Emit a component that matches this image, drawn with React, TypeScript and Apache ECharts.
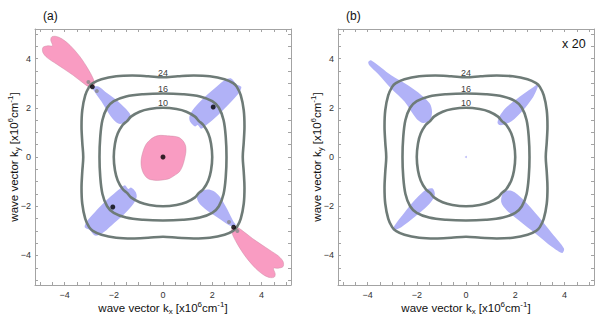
import React, { useEffect, useRef } from "react";
import * as echarts from "echarts";

// ---------- data ----------
const TICKS = [-5, -4.5, -4, -3.5, -3, -2.5, -2, -1.5, -1, -0.5, 0, 0.5, 1, 1.5, 2, 2.5, 3, 3.5, 4, 4.5, 5];
const TICK_LABELS = [-4, -2, 0, 2, 4];

// contour lines, first quadrant (from top axis crossing to right axis crossing)
const C10_Q1 = [[0, 2.0], [0.55, 1.95], [0.95, 1.84], [1.3, 1.64], [1.46, 1.46], [1.64, 1.3], [1.84, 0.95], [1.95, 0.55], [2.0, 0]];
const C16_Q1 = [[0, 2.58], [0.8, 2.55], [1.5, 2.46], [2.0, 2.27], [2.27, 2.0], [2.46, 1.5], [2.55, 0.8], [2.58, 0]];
const C24_Q1 = [[0, 3.24], [0.6, 3.28], [1.25, 3.31], [1.9, 3.28], [2.5, 3.16], [2.85, 3.0], [3.0, 2.85], [3.16, 2.5], [3.28, 1.9], [3.31, 1.25], [3.28, 0.6], [3.24, 0]];
const CONTOUR_LABELS = ["24", "16", "10"];
const CONTOUR_LABEL_Y = [3.4, 2.75, 2.2];

// panel (a) lobes
const A_PINK_UL = [[-2.85, 2.85], [-2.78, 3.02], [-3.0, 3.5], [-3.37, 4.07], [-3.78, 4.54], [-4.12, 4.81], [-4.35, 4.9], [-4.52, 4.88], [-4.56, 4.75], [-4.49, 4.52], [-4.68, 4.52], [-4.88, 4.45], [-4.88, 4.25], [-4.7, 4.03], [-4.33, 3.78], [-3.65, 3.32], [-3.17, 2.95], [-2.95, 2.82]];
const A_PINK_LR = [[2.85, -2.85], [2.78, -3.02], [3.0, -3.5], [3.37, -4.07], [3.78, -4.54], [4.12, -4.81], [4.35, -4.9], [4.52, -4.88], [4.56, -4.75], [4.49, -4.52], [4.68, -4.52], [4.88, -4.45], [4.88, -4.25], [4.7, -4.03], [4.33, -3.78], [3.65, -3.32], [3.17, -2.95], [2.95, -2.82]];
const A_PINK_CENTER = [[-0.09, 0.88], [0.18, 0.86], [0.45, 0.84], [0.66, 0.79], [0.82, 0.65], [0.92, 0.45], [0.93, 0.2], [0.86, -0.15], [0.78, -0.4], [0.66, -0.61], [0.45, -0.76], [0.25, -0.88], [0.0, -0.93], [-0.23, -0.95], [-0.5, -0.92], [-0.66, -0.84], [-0.8, -0.65], [-0.88, -0.4], [-0.89, -0.13], [-0.82, 0.2], [-0.7, 0.5], [-0.5, 0.72], [-0.3, 0.84]];
const A_BLUE_UL = [[-2.89, 2.84], [-2.62, 2.86], [-2.35, 2.65], [-1.87, 2.3], [-1.5, 1.95], [-1.32, 1.7], [-1.36, 1.48], [-1.55, 1.38], [-1.82, 1.36], [-2.14, 1.68], [-2.5, 2.25], [-2.78, 2.65]];
const A_BLUE_LR = [[2.89, -2.82], [2.65, -2.75], [2.2, -2.45], [1.7, -2.1], [1.45, -1.85], [1.38, -1.6], [1.5, -1.42], [1.8, -1.32], [2.05, -1.38], [2.3, -1.6], [2.6, -2.1], [2.85, -2.6], [2.95, -2.75]];
const A_BLUE_UR = [[1.11, 1.42], [1.3, 1.24], [1.41, 1.3], [1.55, 1.15], [1.75, 1.29], [2.23, 1.7], [2.77, 2.24], [3.11, 2.64], [3.18, 2.85], [2.98, 2.96], [2.77, 3.19], [2.5, 3.12], [2.09, 2.78], [1.55, 2.3], [1.2, 1.9], [1.07, 1.63]];
const A_BLUE_LL = [[-1.11, -1.42], [-1.3, -1.24], [-1.41, -1.3], [-1.55, -1.15], [-1.75, -1.29], [-2.23, -1.7], [-2.77, -2.24], [-3.11, -2.64], [-3.18, -2.85], [-2.98, -2.96], [-2.77, -3.19], [-2.5, -3.12], [-2.09, -2.78], [-1.55, -2.3], [-1.2, -1.9], [-1.07, -1.63]];
const A_BLACK_DOTS = [[0, 0], [2.04, 2.03], [-2.04, -2.03], [-2.87, 2.85], [2.87, -2.85]];
const A_GRAY_DOTS = [[-3.03, 3.05], [-2.69, 2.68], [2.68, -2.64], [3.02, -3.01]];

// panel (b) lobes
const B_BLUE_UL = [[-3.97, 3.86], [-3.86, 3.93], [-3.04, 3.32], [-2.36, 2.91], [-1.81, 2.51], [-1.47, 2.17], [-1.38, 1.83], [-1.47, 1.49], [-1.75, 1.38], [-2.02, 1.56], [-2.49, 2.24], [-3.04, 2.78], [-3.59, 3.39], [-3.93, 3.73]];
const B_BLUE_UR = [[1.28, 1.4], [1.36, 1.65], [1.6, 1.98], [1.91, 2.24], [2.45, 2.64], [2.8, 2.88], [2.95, 2.97], [2.9, 2.8], [2.73, 2.44], [2.32, 1.9], [1.85, 1.45], [1.55, 1.32], [1.35, 1.3]];
const B_BLUE_LL = [[-1.34, -1.29], [-1.27, -1.56], [-1.54, -1.96], [-2.09, -2.44], [-2.63, -2.85], [-2.97, -2.98], [-2.9, -2.78], [-2.49, -2.24], [-2.09, -1.76], [-1.75, -1.42], [-1.54, -1.29]];
const B_BLUE_LR = [[1.53, -1.42], [1.87, -1.38], [2.28, -1.69], [2.96, -2.44], [3.5, -3.11], [3.98, -3.72], [3.91, -3.9], [3.5, -3.66], [2.82, -3.11], [2.14, -2.57], [1.66, -2.17], [1.43, -1.83]];
const B_CENTER_DOT = [[0, 0]];

// ---------- styling ----------
const PINK = "#f99cc2";
const PINK_EDGE = "rgba(205,140,165,0.8)";
const BLUE = "#b1b2f7";
const CONTOUR = "#6e7b77";
const FRAME = "#a3a3a3";
const FONT = "'Liberation Sans', Arial, Helvetica, sans-serif";

function fullContour(q: number[][]) {
  const q4 = q.slice(0, -1).reverse().map(([x, y]) => [x, -y]);
  const q3 = q.slice(1).map(([x, y]) => [-x, -y]);
  const q2 = q.slice(1, -1).reverse().map(([x, y]) => [-x, y]);
  return [...q, ...q4, ...q3, ...q2];
}

const CONTOURS = [fullContour(C10_Q1), fullContour(C16_Q1), fullContour(C24_Q1)];

function polySeries(pts: number[][], g: number, fill: string, stroke: string, lw: number, smooth: number, z: number) {
  return {
    type: "custom",
    xAxisIndex: g * 2,
    yAxisIndex: g * 2,
    data: pts,
    encode: { x: 0, y: 1 },
    z,
    silent: true,
    renderItem: (params: any, api: any) => {
      if (params.dataIndex !== 0) return null;
      const points = pts.map((p) => api.coord(p));
      return {
        type: "polygon",
        shape: { points, smooth },
        style: { fill, stroke, lineWidth: lw },
      };
    },
  };
}

function axisName(sub: string) {
  return `{t|wave vector k}{sub|${sub}}{t| [x10}{sup|6}{t|cm}{sup|-1}{t|]}`;
}

const nameRich = {
  t: { fontSize: 11.5, fontFamily: FONT, color: "#111", lineHeight: 15, verticalAlign: "middle" },
  sub: { fontSize: 8, fontFamily: FONT, color: "#111", lineHeight: 15, verticalAlign: "bottom" },
  sup: { fontSize: 8, fontFamily: FONT, color: "#111", lineHeight: 15, verticalAlign: "top" },
};

const tickFormatter = (v: number) => (v < 0 ? "\u2212" + Math.abs(v) : String(v));

function makeXAxes(g: number) {
  const common = {
    type: "value",
    gridIndex: g,
    min: -5.2,
    max: 5.2,
    splitLine: { show: false },
    axisLine: { show: true, onZero: false, lineStyle: { color: FRAME, width: 1 } },
    axisTick: { show: true, inside: true, length: 3, customValues: TICKS, lineStyle: { color: FRAME } },
  };
  return [
    {
      ...common,
      position: "bottom",
      axisLabel: { customValues: TICK_LABELS, formatter: tickFormatter, color: "#333", fontSize: 9, fontFamily: FONT, margin: 5 },
      name: axisName("x"),
      nameLocation: "middle",
      nameGap: 15,
      nameMoveOverlap: false,
      nameTextStyle: { rich: nameRich, verticalAlign: "top" },
    },
    { ...common, position: "top", axisLabel: { show: false } },
  ];
}

function makeYAxes(g: number) {
  const common = {
    type: "value",
    gridIndex: g,
    min: -5.2,
    max: 5.2,
    splitLine: { show: false },
    axisLine: { show: true, onZero: false, lineStyle: { color: FRAME, width: 1 } },
    axisTick: { show: true, inside: true, length: 3, customValues: TICKS, lineStyle: { color: FRAME } },
  };
  return [
    {
      ...common,
      position: "left",
      axisLabel: { customValues: TICK_LABELS, formatter: tickFormatter, color: "#333", fontSize: 9, fontFamily: FONT, margin: 4 },
      name: axisName("y"),
      nameLocation: "middle",
      nameGap: 14,
      nameMoveOverlap: false,
      nameTextStyle: { rich: nameRich, verticalAlign: "bottom" },
    },
    { ...common, position: "right", axisLabel: { show: false } },
  ];
}

function contourSeries(g: number) {
  const s: any[] = CONTOURS.map((c) => polySeries(c, g, "none", CONTOUR, 2.6, 0.35, 5));
  s.push({
    type: "scatter",
    xAxisIndex: g * 2,
    yAxisIndex: g * 2,
    symbolSize: 0,
    z: 6,
    silent: true,
    data: CONTOUR_LABELS.map((t, i) => ({ value: [0, CONTOUR_LABEL_Y[i]], name: t })),
    label: {
      show: true,
      position: "inside",
      formatter: (p: any) => p.name,
      fontSize: 9,
      fontFamily: FONT,
      color: "#000",
      textBorderWidth: 0,
    },
  });
  return s;
}

export default function App() {
  const ref = useRef<HTMLDivElement>(null);
  useEffect(() => {
    if (!ref.current) return;
    const chart = echarts.init(ref.current, null, { renderer: "svg" });
    const option: any = {
      animation: false,
      backgroundColor: "#ffffff",
      grid: [
        { left: 35, top: 29, width: 256, height: 256, outerBoundsMode: "none", containLabel: false },
        { left: 338, top: 29, width: 256, height: 256, outerBoundsMode: "none", containLabel: false },
      ],
      xAxis: [...makeXAxes(0), ...makeXAxes(1)],
      yAxis: [...makeYAxes(0), ...makeYAxes(1)],
      graphic: [
        { type: "text", left: 43, top: 10, style: { text: "(a)", fontSize: 12, fontFamily: FONT, fill: "#111" } },
        { type: "text", left: 346, top: 10, style: { text: "(b)", fontSize: 12, fontFamily: FONT, fill: "#111" } },
        { type: "text", left: 562, top: 37, style: { text: "x 20", fontSize: 12.5, fontFamily: FONT, fill: "#111" } },
      ],
      series: [
        polySeries(A_PINK_UL, 0, PINK, PINK_EDGE, 0.6, 0.3, 1),
        polySeries(A_PINK_LR, 0, PINK, PINK_EDGE, 0.6, 0.3, 1),
        polySeries(A_PINK_CENTER, 0, PINK, PINK_EDGE, 0.6, 0.3, 1),
        polySeries(A_BLUE_UL, 0, BLUE, "none", 0, 0.3, 2),
        polySeries(A_BLUE_LR, 0, BLUE, "none", 0, 0.3, 2),
        polySeries(A_BLUE_UR, 0, BLUE, "none", 0, 0.3, 2),
        polySeries(A_BLUE_LL, 0, BLUE, "none", 0, 0.3, 2),
        ...contourSeries(0),
        {
          type: "scatter", xAxisIndex: 0, yAxisIndex: 0, z: 8, silent: true,
          symbolSize: 5, itemStyle: { color: "#000" }, data: A_BLACK_DOTS,
        },
        {
          type: "scatter", xAxisIndex: 0, yAxisIndex: 0, z: 8, silent: true,
          symbolSize: 4, itemStyle: { color: "#888" }, data: A_GRAY_DOTS,
        },
        polySeries(B_BLUE_UL, 1, BLUE, "none", 0, 0.3, 2),
        polySeries(B_BLUE_UR, 1, BLUE, "none", 0, 0.3, 2),
        polySeries(B_BLUE_LL, 1, BLUE, "none", 0, 0.3, 2),
        polySeries(B_BLUE_LR, 1, BLUE, "none", 0, 0.3, 2),
        ...contourSeries(1),
        {
          type: "scatter", xAxisIndex: 2, yAxisIndex: 2, z: 8, silent: true,
          symbolSize: 2, itemStyle: { color: BLUE }, data: B_CENTER_DOT,
        },
      ],
    };
    chart.setOption(option);
    return () => chart.dispose();
  }, []);
  return (
    <div
      ref={ref}
      style={{ position: "absolute", left: 0, top: 0, width: 614, height: 323, background: "#fff" }}
    />
  );
}
